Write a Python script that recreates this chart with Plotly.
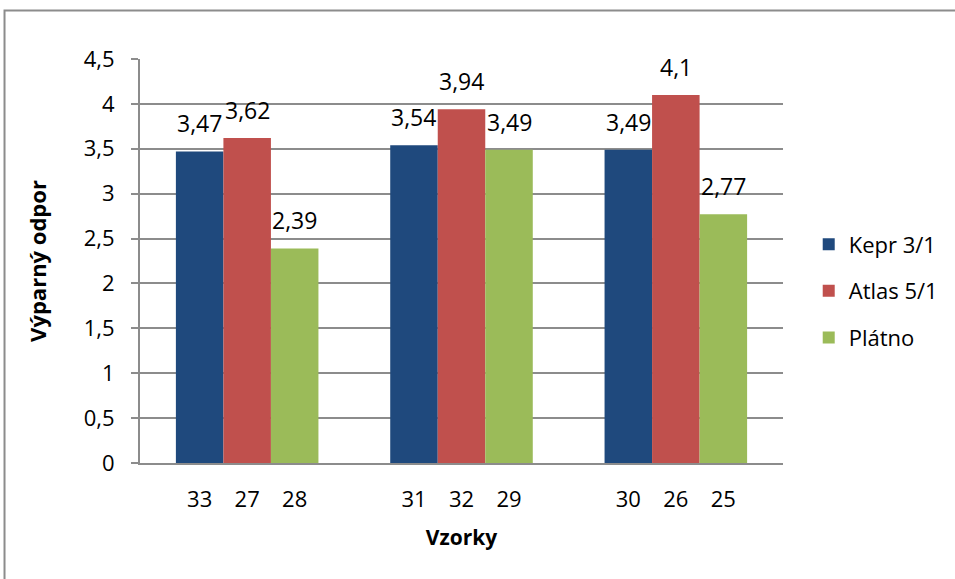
import plotly.graph_objects as go

# Evaporative resistance of fabric samples, three weave types per group
series_names = ["Kepr 3/1", "Atlas 5/1", "Plátno"]
sample_labels = [
    ["33", "31", "30"],   # Kepr 3/1
    ["27", "32", "26"],   # Atlas 5/1
    ["28", "29", "25"],   # Plátno
]
values = [
    [3.47, 3.54, 3.49],   # Kepr 3/1
    [3.62, 3.94, 4.10],   # Atlas 5/1
    [2.39, 3.49, 2.77],   # Plátno
]
y_ticks = [0, 0.5, 1, 1.5, 2, 2.5, 3, 3.5, 4, 4.5]

colors = ["#1F497D", "#C0504D", "#9BBB59"]
FONT = "Open Sans"
GRID = "#8c8c8c"

n_groups = len(values[0])
n_series = len(series_names)
bar_w = 0.2217  # width of one bar in category units (gap width ~150 %)

fig = go.Figure()
tick_pos, tick_txt = [], []
annotations = []
for j, name in enumerate(series_names):
    xs = [i + (j - (n_series - 1) / 2) * bar_w for i in range(n_groups)]
    fig.add_trace(go.Bar(
        x=xs, y=values[j], width=bar_w, name=name,
        marker=dict(color=colors[j], line=dict(width=0)),
        legendgroup=name,
    ))
    for x, v, lab in zip(xs, values[j], sample_labels[j]):
        tick_pos.append(x)
        tick_txt.append(lab)
        annotations.append(dict(
            x=x, y=v, xref="x", yref="y", text=f"{v:g}".replace(".", ","),
            showarrow=False, yanchor="middle", yshift=28,
            font=dict(family=FONT, size=23, color="#000000"),
        ))

order = sorted(range(len(tick_pos)), key=lambda k: tick_pos[k])
tick_pos = [tick_pos[k] for k in order]
tick_txt = [tick_txt[k] for k in order]

fig.update_layout(
    width=955, height=579,
    margin=dict(l=140, r=172, t=59, b=116),
    paper_bgcolor="white", plot_bgcolor="white",
    separators=", ",
    barmode="overlay",
    showlegend=True,
    legend=dict(
        x=1.04, y=0.426, xanchor="left", yanchor="middle",
        font=dict(family=FONT, size=22, color="#000000"),
        tracegroupgap=15, bgcolor="rgba(0,0,0,0)",
    ),
    annotations=annotations,
    shapes=[dict(
        type="rect", xref="paper", yref="paper",
        x0=-0.2107, x1=1.5, y0=-0.5, y1=1.12,
        line=dict(color=GRID, width=2), fillcolor="rgba(0,0,0,0)", layer="below",
    )],
)

fig.update_xaxes(
    range=[-0.5, n_groups - 0.5],
    tickmode="array", tickvals=tick_pos, ticktext=tick_txt,
    ticks="", ticklabelstandoff=16,
    showgrid=False, zeroline=False,
    showline=True, linecolor=GRID, linewidth=2,
    tickfont=dict(family=FONT, size=22, color="#000000"),
    title=dict(text="<b>Vzorky</b>", standoff=18,
               font=dict(family=FONT, size=21, color="#000000")),
)
fig.update_yaxes(
    range=[0, 4.5],
    tickmode="array", tickvals=y_ticks,
    ticks="outside", ticklen=7, tickcolor=GRID, tickwidth=2,
    ticklabelstandoff=12,
    showgrid=True, gridcolor=GRID, gridwidth=2,
    zeroline=False,
    showline=True, linecolor=GRID, linewidth=2,
    tickfont=dict(family=FONT, size=22, color="#000000"),
    title=dict(text="<b>Výparný odpor</b>", standoff=31,
               font=dict(family=FONT, size=22, color="#000000")),
)

fig.write_html("out.html")
